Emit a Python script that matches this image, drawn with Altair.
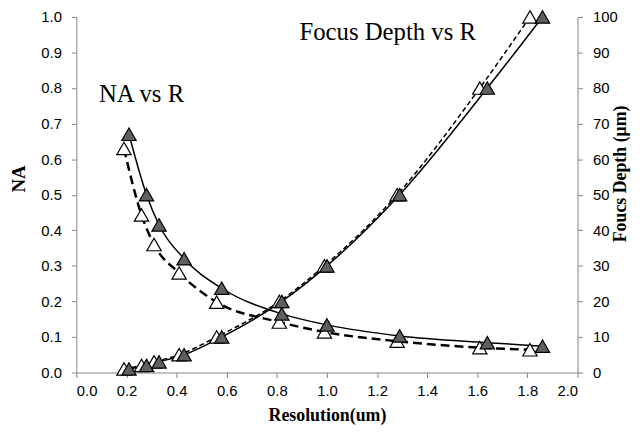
import altair as alt
import pandas as pd

# Resolution values (um)
r_filled = [0.21, 0.28, 0.33, 0.43, 0.58, 0.82, 1.00, 1.29, 1.64, 1.86]
r_hollow = [0.19, 0.26, 0.31, 0.41, 0.56, 0.81, 0.99, 1.28, 1.61, 1.81]
# NA series
na_filled = [0.67, 0.50, 0.415, 0.32, 0.237, 0.165, 0.134, 0.103, 0.084, 0.074]
na_hollow = [0.63, 0.443, 0.36, 0.28, 0.198, 0.142, 0.114, 0.088, 0.070, 0.064]
# Focus depth series (um)
fd_filled = [1, 2, 3, 5, 10, 20, 30, 50, 80, 100]
fd_hollow = [1, 2, 3, 5, 10, 20, 30, 50, 80, 100]

# annotations
ann_labels = ["NA vs R", "Focus Depth vs R"]
ann_x = [0.09, 0.89]
ann_y = [0.76, 0.935]

df_f = pd.DataFrame({"r": r_filled, "na": na_filled, "fd": fd_filled})
df_h = pd.DataFrame({"r": r_hollow, "na": na_hollow, "fd": fd_hollow})
df_a = pd.DataFrame({"x": ann_x, "y": ann_y, "label": ann_labels})

AX = "#868686"
SANS = "Liberation Sans"
SERIF = "Liberation Serif"

x_enc = alt.X("r:Q", scale=alt.Scale(domain=[0, 2.0], nice=False, zero=False),
              axis=alt.Axis(values=[0, 0.2, 0.4, 0.6, 0.8, 1.0, 1.2, 1.4, 1.6, 1.8, 2.0],
                            format=".1f", title="Resolution(um)", grid=False,
                            domainColor=AX, tickColor=AX, tickSize=5,
                            labelFont=SANS, labelFontSize=15, labelColor="#000",
                            labelPadding=6, titleFont=SERIF, titleFontSize=18,
                            titleFontWeight="bold", titleColor="#000",
                            titleBaseline="middle", titleY=43))

na_scale = alt.Scale(domain=[0, 1.0], nice=False, zero=True)
na_axis = alt.Axis(values=[i / 10 for i in range(11)], format=".1f", title="NA",
                   grid=False, orient="left", domainColor=AX, tickColor=AX, tickSize=5,
                   labelFont=SANS, labelFontSize=15, labelColor="#000", labelPadding=10,
                   titleFont=SERIF, titleFontSize=19, titleFontWeight="bold",
                   titleColor="#000", titleX=-58, titleY=163, titleBaseline="middle",
                   titleAlign="center")
fd_scale = alt.Scale(domain=[0, 100], nice=False, zero=True)
fd_axis = alt.Axis(values=list(range(0, 101, 10)), format="d", title="Foucs Depth (μm)",
                   grid=False, orient="right", domainColor=AX, tickColor=AX, tickSize=5,
                   labelFont=SANS, labelFontSize=15, labelColor="#000", labelPadding=10,
                   titleFont=SERIF, titleFontSize=18, titleFontWeight="bold",
                   titleColor="#000", titleX=43, titleY=158, titleBaseline="middle",
                   titleAlign="center", titleAngle=-90)

TRI = 210
FILL = "#5f5f5f"

na_dash = alt.Chart(df_h).mark_line(interpolate="monotone", color="black", strokeWidth=2.5,
                                     strokeDash=[9, 5]).encode(
    x=x_enc, y=alt.Y("na:Q", scale=na_scale, axis=na_axis))
na_solid = alt.Chart(df_f).mark_line(interpolate="monotone", color="black", strokeWidth=1.5).encode(
    x=x_enc, y=alt.Y("na:Q", scale=na_scale, axis=na_axis))
na_hpts = alt.Chart(df_h).mark_point(shape="triangle-up", size=TRI, filled=True, fill="white",
                                      stroke="black", strokeWidth=1.2, opacity=1).encode(
    x=x_enc, y=alt.Y("na:Q", scale=na_scale, axis=na_axis))
na_fpts = alt.Chart(df_f).mark_point(shape="triangle-up", size=TRI, filled=True, fill=FILL,
                                      stroke="black", strokeWidth=1.2, opacity=1).encode(
    x=x_enc, y=alt.Y("na:Q", scale=na_scale, axis=na_axis))
ann = alt.Chart(df_a).mark_text(align="left", baseline="alphabetic", font=SERIF, fontSize=25,
                                 color="black").encode(
    x=alt.X("x:Q", scale=alt.Scale(domain=[0, 2.0], nice=False, zero=False)),
    y=alt.Y("y:Q", scale=na_scale, axis=na_axis), text="label:N")

fd_dash = alt.Chart(df_h).mark_line(interpolate="monotone", color="black", strokeWidth=1.5,
                                     strokeDash=[5, 3]).encode(
    x=x_enc, y=alt.Y("fd:Q", scale=fd_scale, axis=fd_axis))
fd_solid = alt.Chart(df_f).mark_line(interpolate="monotone", color="black", strokeWidth=1.5).encode(
    x=x_enc, y=alt.Y("fd:Q", scale=fd_scale, axis=fd_axis))
fd_hpts = alt.Chart(df_h).mark_point(shape="triangle-up", size=TRI, filled=True, fill="white",
                                      stroke="black", strokeWidth=1.2, opacity=1).encode(
    x=x_enc, y=alt.Y("fd:Q", scale=fd_scale, axis=fd_axis))
fd_fpts = alt.Chart(df_f).mark_point(shape="triangle-up", size=TRI, filled=True, fill=FILL,
                                      stroke="black", strokeWidth=1.2, opacity=1).encode(
    x=x_enc, y=alt.Y("fd:Q", scale=fd_scale, axis=fd_axis))

na_layer = alt.layer(na_dash, na_solid, na_hpts, na_fpts, ann)
fd_layer = alt.layer(fd_dash, fd_solid, fd_hpts, fd_fpts)

chart = alt.layer(na_layer, fd_layer).resolve_scale(y="independent").properties(
    width=506, height=359,
    autosize=alt.AutoSizeParams(type="none"),
    padding={"left": 69, "top": 7, "right": 58, "bottom": 55},
    background="white",
).configure_view(stroke=None)

chart.save("out.html", embed_options={"renderer": "svg", "actions": False})
